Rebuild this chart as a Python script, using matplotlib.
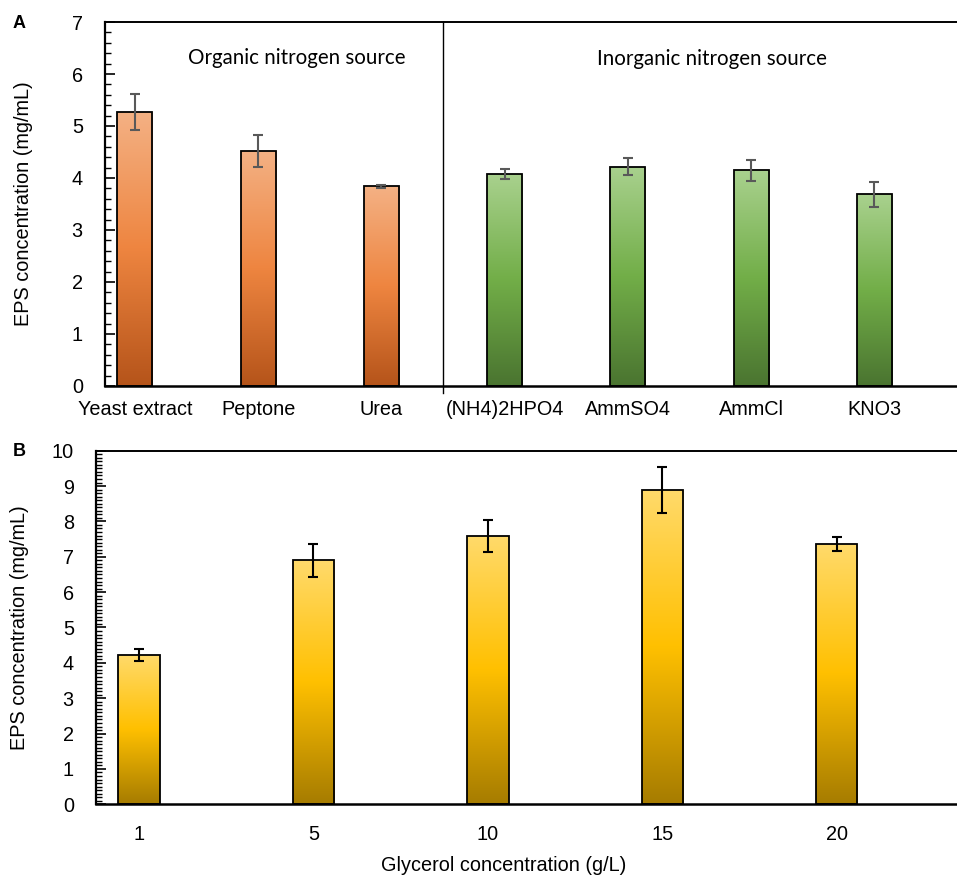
import numpy as np
import matplotlib.pyplot as plt
from matplotlib.colors import LinearSegmentedColormap
from matplotlib.ticker import MultipleLocator

# panel A: nitrogen sources
sources = ['Yeast extract', 'Peptone', 'Urea', '(NH4)2HPO4', 'AmmSO4', 'AmmCl', 'KNO3']
eps_a = [5.27, 4.52, 3.84, 4.08, 4.22, 4.15, 3.69]
err_a = [0.34, 0.30, 0.03, 0.10, 0.17, 0.20, 0.24]
n_organic = 3

# panel B: glycerol concentration
glycerol = ['1', '5', '10', '15', '20']
eps_b = [4.23, 6.90, 7.59, 8.90, 7.36]
err_b = [0.17, 0.46, 0.46, 0.65, 0.20]

orange = LinearSegmentedColormap.from_list('o', ['#B5541A', '#EE8540', '#F4B184'])
green = LinearSegmentedColormap.from_list('g', ['#4A7430', '#72AE48', '#A9D18E'])
gold = LinearSegmentedColormap.from_list('y', ['#A67C00', '#FFC000', '#FFDA6B'])

plt.rcParams['font.family'] = ['Liberation Sans', 'DejaVu Sans']
FS = 14.3


def gradient_bars(ax, bars, cmap):
	grad = np.linspace(0, 1, 256).reshape(-1, 1)
	for b in bars:
		x0, y0 = b.get_x(), b.get_y()
		w, h = b.get_width(), b.get_height()
		im = ax.imshow(grad, cmap=cmap, origin='lower', aspect='auto',
			extent=(x0, x0 + w, y0, y0 + h), zorder=1)
		im.set_clip_path(b)
		b.set_facecolor('none')
		b.set_zorder(2)


def style_axes(ax, ymax, minor):
	ax.set_ylim(0, ymax)
	ax.yaxis.set_major_locator(MultipleLocator(1))
	ax.yaxis.set_minor_locator(MultipleLocator(minor))
	ax.tick_params(axis='y', which='major', direction='in', length=7, width=1.2,
		labelsize=FS, pad=16)
	ax.tick_params(axis='y', which='minor', direction='in', length=4, width=1.0)
	ax.tick_params(axis='x', length=0, labelsize=FS, pad=10)
	ax.spines['right'].set_visible(False)
	ax.spines['left'].set_linewidth(1.6)
	ax.spines['bottom'].set_linewidth(1.8)
	ax.spines['top'].set_linewidth(1.4)
	ax.set_ylabel('EPS concentration (mg/mL)', fontsize=FS)


fig = plt.figure(figsize=(9.57, 8.77), dpi=100)

# ---- A ----
axA = fig.add_axes([0.1097, 0.5599, 0.8903, 0.4150])
xa = np.arange(len(sources))
colors = [orange] * n_organic + [green] * (len(sources) - n_organic)
bars = axA.bar(xa, eps_a, width=0.285, edgecolor='black', linewidth=1.3)
for i, b in enumerate(bars):
	gradient_bars(axA, [b], colors[i])
axA.errorbar(xa, eps_a, yerr=err_a, fmt='none', ecolor='#595959',
	elinewidth=1.5, capsize=3.4, capthick=1.5, zorder=3)
axA.set_xlim(-0.243, 6.67)
axA.set_xticks(xa)
axA.set_xticklabels(sources)
style_axes(axA, 7, 0.2)
axA.yaxis.set_label_coords(-0.084, 0.5)
axA.plot([n_organic - 0.5] * 2, [-0.13, 7], color='black', lw=1.0,
	clip_on=False, zorder=4)
axA.text(1.31, 6.3, 'Organic nitrogen source', family=['Lato', 'DejaVu Sans'],
	fontsize=14.8, ha='center', va='center')
axA.text(4.68, 6.28, 'Inorganic nitrogen source', family=['Lato', 'DejaVu Sans'],
	fontsize=14.8, ha='center', va='center')
fig.text(0.013, 0.973, 'A', fontsize=13, fontweight='bold', va='center')

# ---- B ----
axB = fig.add_axes([0.1003, 0.0829, 0.8997, 0.4032])
xb = np.arange(len(glycerol))
bars = axB.bar(xb, eps_b, width=0.237, edgecolor='black', linewidth=1.3)
gradient_bars(axB, bars, gold)
axB.errorbar(xb, eps_b, yerr=err_b, fmt='none', ecolor='black',
	elinewidth=1.5, capsize=3.6, capthick=1.5, zorder=3)
axB.set_xlim(-0.247, 4.69)
axB.set_xticks(xb)
axB.set_xticklabels(glycerol)
style_axes(axB, 10, 0.1)
axB.yaxis.set_label_coords(-0.078, 0.5)
axB.tick_params(axis='x', pad=15)
axB.set_xlabel('Glycerol concentration (g/L)', fontsize=FS)
axB.xaxis.set_label_coords(0.474, -0.147)
fig.text(0.013, 0.485, 'B', fontsize=13, fontweight='bold', va='center')

plt.savefig('out.png', dpi=100)
